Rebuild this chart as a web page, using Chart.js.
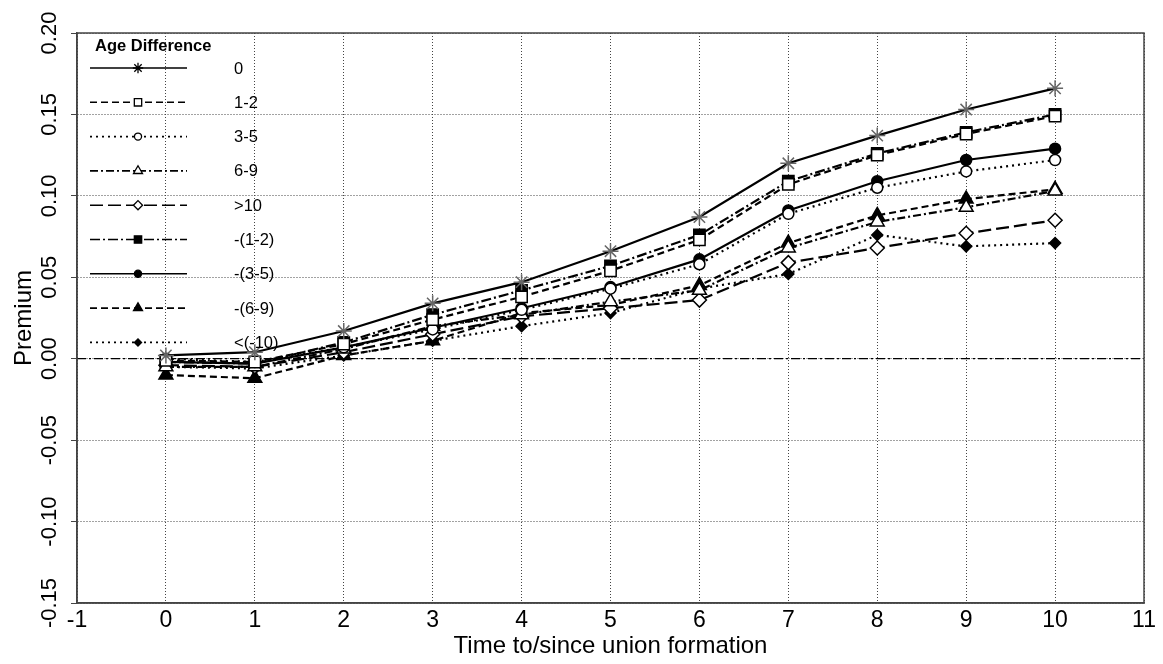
<!DOCTYPE html>
<html>
<head>
<meta charset="utf-8">
<script src="https://cdn.jsdelivr.net/npm/chart.js@4.4.1/dist/chart.umd.min.js"></script>
<style>
html, body { margin: 0; padding: 0; background: #fff; }
</style>
</head>
<body>
<canvas id="premiumChart" width="1163" height="664"></canvas>
<script>
// years relative to union formation
var years = [0, 1, 2, 3, 4, 5, 6, 7, 8, 9, 10];
var groupLabels = ['0', '1-2', '3-5', '6-9', '>10', '-(1-2)', '-(3-5)', '-(6-9)', '<(-10)'];

var ageSame   = [0.002, 0.004, 0.017, 0.034, 0.047, 0.066, 0.087, 0.120, 0.137, 0.153, 0.166];
var older12   = [-0.001, -0.002, 0.009, 0.024, 0.038, 0.054, 0.073, 0.107, 0.125, 0.138, 0.149];
var older35   = [0.000, -0.002, 0.007, 0.018, 0.030, 0.043, 0.058, 0.089, 0.105, 0.115, 0.122];
var older69   = [-0.005, -0.005, 0.006, 0.020, 0.027, 0.035, 0.042, 0.068, 0.084, 0.093, 0.103];
var older10   = [-0.004, -0.005, 0.004, 0.015, 0.026, 0.031, 0.036, 0.059, 0.068, 0.077, 0.085];
var younger12 = [-0.002, -0.003, 0.010, 0.027, 0.042, 0.057, 0.076, 0.109, 0.126, 0.139, 0.150];
var younger35 = [-0.002, -0.003, 0.007, 0.019, 0.031, 0.044, 0.061, 0.091, 0.109, 0.122, 0.129];
var younger69 = [-0.010, -0.012, 0.002, 0.011, 0.028, 0.033, 0.045, 0.071, 0.088, 0.098, 0.104];
var younger10 = [-0.005, -0.006, 0.002, 0.011, 0.020, 0.028, 0.043, 0.052, 0.076, 0.069, 0.071];

var seriesValues = [ageSame, older12, older35, older69, older10, younger12, younger35, younger69, younger10];
var xTicks = [-1, 0, 1, 2, 3, 4, 5, 6, 7, 8, 9, 10, 11];
var yTicks = [-0.15, -0.10, -0.05, 0.00, 0.05, 0.10, 0.15, 0.20];

var styles = [
    { dash: [], point: 'star', fill: '#fff', r: 8, stroke: '#666' },
    { dash: [7, 4], point: 'rect', fill: '#fff', r: 8 },
    { dash: [2, 4], point: 'circle', fill: '#fff', r: 5.5 },
    { dash: [8, 3, 2, 3], point: 'triangle', fill: '#fff', r: 8 },
    { dash: [13, 5], point: 'rectRot', fill: '#fff', r: 7 },
    { dash: [10, 3, 2, 3], point: 'rect', fill: '#000', r: 8 },
    { dash: [], point: 'circle', fill: '#000', r: 5.5 },
    { dash: [7, 4], point: 'triangle', fill: '#000', r: 8 },
    { dash: [2, 4], point: 'rectRot', fill: '#000', r: 5.5 }
];

var datasets = seriesValues.map(function(vals, i) {
    var s = styles[i];
    return {
        label: groupLabels[i],
        data: vals.map(function(v, j) { return { x: years[j], y: v }; }),
        borderColor: '#000',
        borderWidth: 2.2,
        borderDash: s.dash,
        pointStyle: s.point,
        pointRadius: s.r,
        pointBackgroundColor: s.fill,
        pointBorderColor: s.stroke || '#000',
        pointBorderWidth: 1.5,
        fill: false,
        tension: 0
    };
});

var frameAndLegend = {
    id: 'frameAndLegend',
    beforeDatasetsDraw: function(chart) {
        var ctx = chart.ctx, a = chart.chartArea;
        var y0 = chart.scales.y.getPixelForValue(0);
        ctx.save();
        ctx.strokeStyle = '#000';
        ctx.lineWidth = 1.3;
        ctx.setLineDash([9, 3, 2, 3]);
        ctx.beginPath();
        ctx.moveTo(a.left, y0);
        ctx.lineTo(a.right, y0);
        ctx.stroke();
        ctx.setLineDash([]);
        ctx.strokeStyle = '#444';
        ctx.lineWidth = 1.5;
        ctx.strokeRect(a.left, a.top, a.right - a.left, a.bottom - a.top);
        ctx.restore();
    },
    afterDraw: function(chart) {
        var ctx = chart.ctx;
        ctx.save();
        ctx.fillStyle = '#000';
        ctx.font = 'bold 16.5px "Liberation Sans", Arial, sans-serif';
        ctx.textBaseline = 'middle';
        ctx.fillText('Age Difference', 95, 46);
        ctx.font = '16.5px "Liberation Sans", Arial, sans-serif';
        chart.data.datasets.forEach(function(ds, i) {
            var y = 68 + i * 34.3;
            ctx.strokeStyle = '#000';
            ctx.lineWidth = 1.6;
            ctx.setLineDash(ds.borderDash);
            ctx.beginPath();
            ctx.moveTo(90, y);
            ctx.lineTo(187, y);
            ctx.stroke();
            ctx.setLineDash([]);
            ctx.fillStyle = ds.pointBackgroundColor;
            ctx.strokeStyle = '#000';
            ctx.lineWidth = 1.3;
            Chart.helpers.drawPoint(ctx, { pointStyle: ds.pointStyle, radius: ds.pointRadius * 0.65, rotation: 0, borderWidth: 1.3 }, 138, y);
            ctx.fillStyle = '#000';
            ctx.fillText(ds.label, 234, y + 1);
        });
        ctx.restore();
    }
};

var ctx = document.getElementById('premiumChart').getContext('2d');
var premiumChart = new Chart(ctx, {
    type: 'line',
    data: { datasets: datasets },
    options: {
        responsive: false,
        animation: false,
        layout: { padding: { top: 33, right: 19, left: 0, bottom: 0 } },
        plugins: { legend: { display: false }, tooltip: { enabled: false } },
        scales: {
            x: {
                type: 'linear',
                min: -1,
                max: 11,
                afterBuildTicks: function(s) { s.ticks = xTicks.map(function(v) { return { value: v }; }); },
                afterFit: function(s) { s.height = 61; },
                ticks: { color: '#000', font: { size: 23, family: '"Liberation Sans", Arial' }, padding: 4 },
                grid: { color: '#444', lineWidth: 1, drawTicks: false },
                border: { color: '#444', width: 1.5, dash: [1, 2] },
                title: { display: true, text: 'Time to/since union formation', color: '#000',
                         font: { size: 24, family: '"Liberation Sans", Arial' }, padding: { top: 0, bottom: 3 } }
            },
            y: {
                type: 'linear',
                min: -0.15,
                max: 0.2,
                afterBuildTicks: function(s) { s.ticks = yTicks.map(function(v) { return { value: v }; }); },
                afterFit: function(s) { s.width = 77; },
                ticks: { color: '#000', font: { size: 22, family: '"Liberation Sans", Arial' }, padding: -4,
                         minRotation: 90, maxRotation: 90, crossAlign: 'center',
                         callback: function(v) { return v.toFixed(2); } },
                grid: { color: '#444', lineWidth: 1, tickLength: 6 },
                border: { color: '#444', width: 1.5, dash: [1, 2] },
                title: { display: true, text: 'Premium', color: '#000',
                         font: { size: 24, family: '"Liberation Sans", Arial' }, padding: { top: 10, bottom: 0 } }
            }
        }
    },
    plugins: [frameAndLegend]
});
</script>
</body>
</html>
